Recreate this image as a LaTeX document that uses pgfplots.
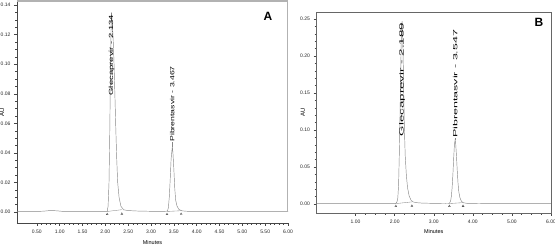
\documentclass[border=0pt]{standalone}
\usepackage{fontspec}
\setmainfont{Liberation Sans}
\usepackage{graphicx}
\usepackage{pgfplots}
\pgfplotsset{compat=1.18}
\definecolor{tracecol}{RGB}{135,135,135}
\definecolor{frameA}{RGB}{178,178,178}
\definecolor{axcol}{RGB}{70,70,70}
\begin{document}
\begin{tikzpicture}
\useasboundingbox (0pt,0pt) rectangle (555pt,246pt);
\pgfplotsset{
  myax/.style={
    scale only axis,
    tick align=outside,
    major tick length=3pt, minor tick length=1.8pt,
    every tick/.style={axcol, line width=0.4pt},
    axis line style={axcol, line width=0.5pt, -},
    ticklabel style={font=\fontsize{5}{5}\selectfont, text=black!85},
    /pgf/number format/assume math mode=true,
    /pgf/number format/fixed,
    /pgf/number format/fixed zerofill,
    /pgf/number format/precision=2,
    scaled y ticks=false, scaled x ticks=false,
    xlabel style={font=\fontsize{5.5}{6}\selectfont, at={(axis description cs:0.5,-0.09)}, anchor=center},
    ylabel style={font=\fontsize{6}{6}\selectfont, anchor=center},
    clip=false,
  },
  tr/.style={draw=tracecol, line width=0.45pt, mark=none},
  bounds/.style={only marks, mark=triangle, mark size=1.1pt, mark options={draw=axcol, line width=0.35pt}},
  ibase/.style={draw=tracecol, line width=0.35pt, mark=none},
}
% ---------------- Panel A ----------------
\begin{axis}[myax,
  at={(17pt,23pt)}, anchor=south west, width=271pt, height=222pt,
  xmin=0.065, xmax=6, ymin=-0.0074, ymax=0.1427,
  axis x line*=bottom, axis y line*=left,
  xtick={0.5,1.0,1.5,2.0,2.5,3.0,3.5,4.0,4.5,5.0,5.5,6.0}, minor x tick num=4,
  ytick={0,0.02,0.04,0.06,0.08,0.10,0.12,0.14}, minor y tick num=3,
  xlabel={Minutes}, ylabel={AU},
  ylabel style={at={(axis description cs:-0.055,0.5)}},
]
\addplot[tr] coordinates {
(0.065,0.0004) (0.3,0.0004) (0.5,0.0004) (0.65,0.0006) (0.75,0.0009) (0.85,0.0010)
(0.95,0.0008) (1.05,0.0005) (1.3,0.0004) (1.7,0.0004) (1.95,0.0004) (2.04,0.0005)
(2.06,0.004) (2.08,0.020) (2.095,0.050) (2.11,0.090) (2.125,0.125) (2.134,0.135)
(2.15,0.128) (2.17,0.118) (2.19,0.100) (2.21,0.078) (2.23,0.055) (2.25,0.035)
(2.27,0.020) (2.30,0.010) (2.34,0.004) (2.40,0.0015) (2.5,0.0010) (2.7,0.0007)
(3.0,0.0005) (3.30,0.0005) (3.36,0.0006) (3.38,0.003) (3.40,0.010) (3.42,0.022)
(3.44,0.036) (3.467,0.0443) (3.48,0.040) (3.50,0.029) (3.52,0.016) (3.54,0.008)
(3.57,0.004) (3.61,0.0018) (3.68,0.0008) (3.8,0.0005) (4.5,0.0004) (5.5,0.0004) (6.0,0.0004)
};
\addplot[ibase] coordinates {(2.04,0.0004) (2.36,0.0016)};
\addplot[ibase] coordinates {(3.35,0.0004) (3.66,0.0009)};
\addplot[bounds] coordinates {(2.04,-0.0015) (2.36,-0.0012) (3.35,-0.0015) (3.66,-0.0013)};
\node[rotate=90, anchor=east, inner sep=0pt, font=\fontsize{6}{6}\selectfont]
  at (axis cs:2.134,0.1335) {\scalebox{1.58}[1]{Glecaprevir - 2.134}};
\node[rotate=90, anchor=west, inner sep=0pt, font=\fontsize{6}{6}\selectfont]
  at (axis cs:3.467,0.0475) {\scalebox{1.45}[1]{Pibrentasvir - 3.467}};
\draw[tracecol, line width=0.4pt] (axis cs:3.467,0.0443) -- (axis cs:3.467,0.0475);
\end{axis}
\draw[frameA, line width=2pt] (17pt,245pt) -- (287pt,245pt);
\draw[frameA, line width=0.7pt] (287pt,246pt) -- (287pt,34pt);
\node[font=\fontsize{12}{12}\selectfont\bfseries] at (268pt,230pt) {A};
% ---------------- Panel B ----------------
\begin{axis}[myax,
  at={(316.5pt,33pt)}, anchor=south west, width=234.5pt, height=201pt,
  xmin=0, xmax=6, ymin=-0.0122, ymax=0.2595,
  xtick pos=lower, ytick pos=left,
  axis line style={black!60, line width=0.6pt, -},
  xtick={1,2,3,4,5,6}, minor x tick num=3,
  ytick={0,0.05,0.10,0.15,0.20,0.25}, minor y tick num=4,
  xlabel={Minutes}, ylabel={AU},
  ylabel style={at={(axis description cs:-0.058,0.5)}},
]
\addplot[tr] coordinates {
(0,0.0005) (0.5,0.0005) (1.0,0.0005) (1.5,0.0005) (1.9,0.0005) (2.03,0.0006)
(2.06,0.003) (2.08,0.008) (2.10,0.025) (2.12,0.070) (2.14,0.130) (2.16,0.195)
(2.175,0.235) (2.189,0.247) (2.20,0.240) (2.215,0.205) (2.23,0.155) (2.25,0.100)
(2.27,0.065) (2.30,0.038) (2.33,0.022) (2.37,0.011) (2.42,0.005) (2.47,0.0028)
(2.55,0.0018) (2.7,0.0012) (3.0,0.0008) (3.3,0.0006) (3.40,0.0007) (3.43,0.004)
(3.45,0.010) (3.47,0.022) (3.49,0.040) (3.51,0.062) (3.53,0.081) (3.547,0.0865)
(3.56,0.083) (3.58,0.066) (3.60,0.046) (3.62,0.029) (3.64,0.017) (3.67,0.0085)
(3.71,0.0035) (3.76,0.0016) (3.85,0.0009) (4.2,0.0006) (5.0,0.0005) (6.0,0.0005)
};
\addplot[ibase] coordinates {(2.03,0.0005) (2.44,0.0028)};
\addplot[ibase] coordinates {(3.40,0.0006) (3.75,0.0018)};
\addplot[bounds] coordinates {(2.03,-0.003) (2.44,-0.0025) (3.40,-0.003) (3.75,-0.0028)};
\node[rotate=90, anchor=east, inner sep=0pt, font=\fontsize{6}{6}\selectfont]
  at (axis cs:2.189,0.245) {\scalebox{2.22}[1]{Glecaprevir - 2.189}};
\node[rotate=90, anchor=west, inner sep=0pt, font=\fontsize{6}{6}\selectfont]
  at (axis cs:3.547,0.089) {\scalebox{2.08}[1]{Pibrentasvir - 3.547}};
\draw[tracecol, line width=0.4pt] (axis cs:3.547,0.0865) -- (axis cs:3.547,0.089);
\end{axis}
\node[font=\fontsize{12}{12}\selectfont\bfseries] at (539pt,224pt) {B};
\end{tikzpicture}
\end{document}
